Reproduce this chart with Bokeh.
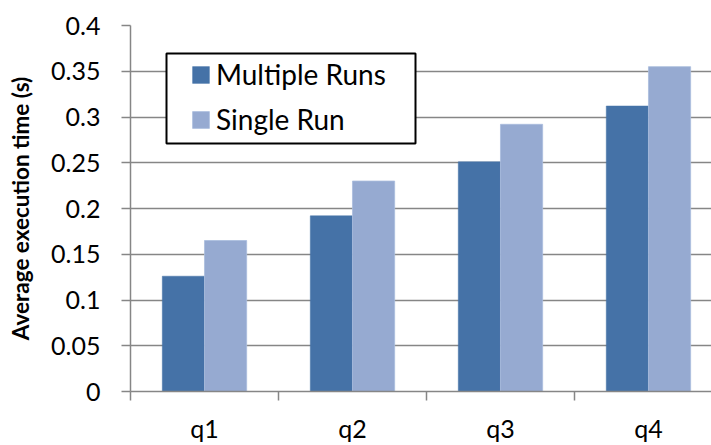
import numpy as np
from bokeh.plotting import figure
from bokeh.models import Range1d, FixedTicker, Legend, LegendItem, BoxAnnotation
from bokeh.embed import file_html
from bokeh.resources import INLINE

# ---- data ----
categories = ["q1", "q2", "q3", "q4"]
multiple_runs = [0.126, 0.192, 0.251, 0.312]
single_run = [0.165, 0.230, 0.292, 0.355]
y_ticks = [0, 0.05, 0.1, 0.15, 0.2, 0.25, 0.3, 0.35, 0.4]
y_tick_labels = ["0", "0.05", "0.1", "0.15", "0.2", "0.25", "0.3", "0.35", "0.4"]
series_names = ["Multiple Runs", "Single Run"]
colors = ["#4572A7", "#96AAD1"]

FONT = "Lato"
GRID = "#868686"

centers = np.arange(len(categories)) + 0.5
bar_w = 0.285

p = figure(width=711, height=445, output_backend="svg", toolbar_location=None,
           x_range=Range1d(0, 3.926), y_range=Range1d(0, 0.4),
           min_border_left=130, min_border_right=0, min_border_top=25,
           min_border_bottom=52)
p.outline_line_color = None
p.background_fill_color = "white"
p.border_fill_color = "white"

r1 = p.vbar(x=centers - bar_w / 2, width=bar_w, top=multiple_runs,
            fill_color=colors[0], line_color=colors[0], line_width=0.5)
r2 = p.vbar(x=centers + bar_w / 2, width=bar_w, top=single_run,
            fill_color=colors[1], line_color="#A9BCDD", line_width=0.8)

# x axis
xa = p.xaxis[0]
xa.ticker = FixedTicker(ticks=list(centers), minor_ticks=list(range(len(categories))))
xa.major_label_overrides = {float(c): lab for c, lab in zip(centers, categories)}
xa.major_tick_out = 0
xa.major_tick_in = 0
xa.minor_tick_out = 9
xa.minor_tick_in = 0
xa.minor_tick_line_color = GRID
xa.minor_tick_line_width = 1.5
xa.axis_line_color = GRID
xa.axis_line_width = 1.5
xa.major_label_text_font = FONT
xa.major_label_text_font_size = "25px"
xa.major_label_text_color = "black"
xa.major_label_standoff = 12

# y axis
ya = p.yaxis[0]
ya.ticker = FixedTicker(ticks=y_ticks, minor_ticks=[])
ya.major_label_overrides = {float(t): lab for t, lab in zip(y_ticks, y_tick_labels)}
ya.major_tick_out = 9
ya.major_tick_in = 0
ya.major_tick_line_color = GRID
ya.major_tick_line_width = 1.5
ya.axis_line_color = GRID
ya.axis_line_width = 1.5
ya.major_label_text_font = FONT
ya.major_label_text_font_size = "25px"
ya.major_label_text_color = "black"
ya.major_label_standoff = 21
ya.axis_label = "Average execution time (s)"
ya.axis_label_text_font = FONT
ya.axis_label_text_font_style = "bold"
ya.axis_label_text_font_size = "22.5px"
ya.axis_label_text_color = "black"
ya.axis_label_standoff = 14

p.xgrid.visible = False
p.ygrid.ticker = FixedTicker(ticks=y_ticks)
p.ygrid.grid_line_color = GRID
p.ygrid.grid_line_width = 1.5

# legend frame (layout, in canvas pixels) and the legend itself inside it
legend_frame = BoxAnnotation(left=166, right=415, top=53, bottom=143,
                             left_units="canvas", right_units="canvas",
                             top_units="canvas", bottom_units="canvas",
                             fill_color="white", fill_alpha=1.0,
                             line_color="black", line_alpha=1.0, line_width=2)
p.add_layout(legend_frame)

legend = Legend(items=[LegendItem(label=series_names[0], renderers=[r1]),
                       LegendItem(label=series_names[1], renderers=[r2])],
                location=(60, 255), margin=0, padding=0, spacing=11,
                glyph_height=21, glyph_width=21, label_standoff=5,
                label_text_font=FONT, label_text_font_size="28px",
                label_text_color="black",
                border_line_color=None,
                background_fill_alpha=0.0)
p.add_layout(legend, "center")

open("out.html", "w").write(file_html(p, INLINE))
